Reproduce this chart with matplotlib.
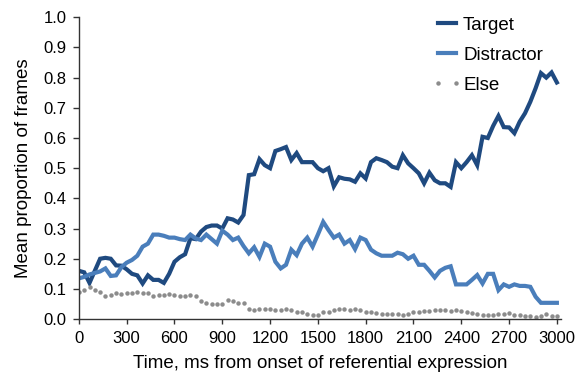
import numpy as np
import matplotlib
matplotlib.use("Agg")
import matplotlib.pyplot as plt

plt.rcParams["font.family"] = ["Liberation Sans", "DejaVu Sans"]

# time bins: one frame every 1/30 s, 0..3000 ms
time_ms = np.arange(91) * 1000 / 30

target = [
    0.160, 0.155, 0.120, 0.160, 0.200, 0.203, 0.200, 0.178, 0.177, 0.165,
    0.150, 0.145, 0.118, 0.145, 0.130, 0.130, 0.120, 0.150, 0.190, 0.205,
    0.215, 0.268, 0.265, 0.290, 0.305, 0.310, 0.310, 0.300, 0.334, 0.330,
    0.320, 0.345, 0.477, 0.480, 0.530, 0.510, 0.500, 0.557, 0.563, 0.570,
    0.527, 0.550, 0.520, 0.520, 0.520, 0.500, 0.490, 0.500, 0.440, 0.470,
    0.465, 0.463, 0.455, 0.483, 0.466, 0.520, 0.533, 0.527, 0.520, 0.505,
    0.500, 0.543, 0.516, 0.500, 0.483, 0.450, 0.485, 0.460, 0.450, 0.450,
    0.438, 0.520, 0.500, 0.520, 0.543, 0.510, 0.604, 0.600, 0.640, 0.673,
    0.636, 0.635, 0.616, 0.654, 0.682, 0.720, 0.765, 0.815, 0.800, 0.817,
    0.784,
]

distractor = [
    0.135, 0.140, 0.148, 0.153, 0.158, 0.168, 0.143, 0.145, 0.172, 0.187,
    0.196, 0.210, 0.240, 0.250, 0.280, 0.280, 0.276, 0.270, 0.270, 0.265,
    0.262, 0.280, 0.267, 0.262, 0.280, 0.265, 0.250, 0.293, 0.280, 0.262,
    0.270, 0.242, 0.218, 0.238, 0.206, 0.250, 0.240, 0.190, 0.168, 0.180,
    0.230, 0.212, 0.250, 0.270, 0.240, 0.280, 0.322, 0.295, 0.270, 0.280,
    0.250, 0.262, 0.232, 0.270, 0.262, 0.230, 0.218, 0.210, 0.210, 0.210,
    0.220, 0.215, 0.200, 0.210, 0.180, 0.180, 0.160, 0.138, 0.160, 0.170,
    0.175, 0.115, 0.115, 0.115, 0.130, 0.146, 0.118, 0.150, 0.150, 0.096,
    0.115, 0.107, 0.115, 0.110, 0.110, 0.107, 0.074, 0.054, 0.054, 0.054,
    0.054,
]

other = [
    0.090, 0.095, 0.105, 0.095, 0.090, 0.075, 0.080, 0.085, 0.083, 0.085,
    0.088, 0.090, 0.085, 0.087, 0.076, 0.080, 0.080, 0.082, 0.080, 0.075,
    0.077, 0.080, 0.078, 0.060, 0.052, 0.050, 0.050, 0.050, 0.063, 0.060,
    0.055, 0.052, 0.033, 0.030, 0.032, 0.033, 0.033, 0.030, 0.030, 0.033,
    0.030, 0.025, 0.022, 0.018, 0.015, 0.013, 0.022, 0.025, 0.030, 0.032,
    0.033, 0.030, 0.033, 0.030, 0.025, 0.022, 0.020, 0.018, 0.018, 0.017,
    0.018, 0.015, 0.018, 0.022, 0.025, 0.028, 0.028, 0.030, 0.030, 0.030,
    0.028, 0.030, 0.028, 0.025, 0.020, 0.016, 0.014, 0.013, 0.015, 0.018,
    0.017, 0.020, 0.015, 0.013, 0.012, 0.010, 0.007, 0.010, 0.016, 0.012,
    0.010,
]

x_ticks = list(range(0, 3001, 300))
y_ticks = [i / 10 for i in range(11)]

fig = plt.figure(figsize=(5.8, 3.75), dpi=100)
ax = fig.add_axes([0.136, 0.149, 0.831, 0.805])

ax.plot(time_ms, target, color="#1f4a80", lw=3, label="Target", solid_joinstyle="miter")
ax.plot(time_ms, distractor, color="#4a7ebb", lw=3, label="Distractor", solid_joinstyle="miter")
ax.plot(time_ms, other, color="#8c8c8c", ls="none", marker="o", ms=3.2,
        markeredgewidth=0, label="Else")

ax.set_xlim(0, 3025)
ax.set_ylim(0, 1.0)
ax.set_xticks(x_ticks)
ax.set_yticks(y_ticks)
ax.set_yticklabels([f"{v:.1f}" for v in y_ticks])

for side in ["top", "right"]:
    ax.spines[side].set_visible(False)
for side in ["left", "bottom"]:
    ax.spines[side].set_color("#333333")
    ax.spines[side].set_linewidth(1.0)
ax.tick_params(direction="out", width=1, color="#333333", labelsize=12, pad=5)
ax.tick_params(axis="x", length=3.5)
ax.tick_params(axis="y", length=4)

ax.set_xlabel("Time, ms from onset of referential expression", fontsize=13.5, labelpad=6.5)
ax.set_ylabel("Mean proportion of frames", fontsize=13.5, labelpad=8)

ax.legend(loc="upper left", bbox_to_anchor=(0.745, 0.955), bbox_transform=fig.transFigure,
          frameon=False, fontsize=13.5, handlelength=1.55, handletextpad=0.1,
          labelspacing=0.68, borderpad=0, borderaxespad=0, numpoints=2)

plt.savefig("out.png", dpi=100)
